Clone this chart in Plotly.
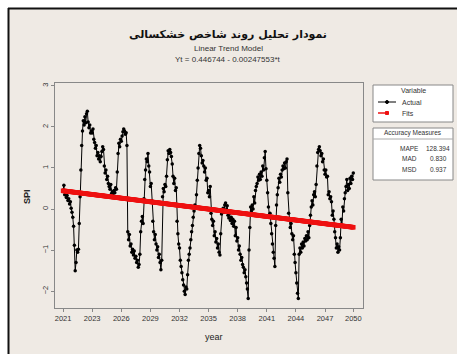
import plotly.graph_objects as go

# Monthly SPI series, 2021-2050 (one row per year)
spi_actual = [
    0.46, 0.58, 0.35, 0.42, 0.28, 0.33, 0.21, 0.25, 0.12, 0.18, 0.02, -0.08,
    -0.20, -0.42, -0.88, -1.50, -1.30, -1.00, -1.05, -0.98, -0.35, 0.30, 0.95, 1.55,
    1.90, 2.15, 2.05, 2.25, 2.10, 2.32, 2.38, 2.12, 1.98, 2.05, 1.85, 1.90,
    1.85, 1.95, 1.70, 1.62, 1.48, 1.55, 1.30, 1.38, 1.22, 1.30, 1.15, 1.28,
    1.40, 1.52, 1.45, 1.05, 0.88, 0.95, 0.72, 0.80, 0.62, 0.55, 0.48, 0.60,
    0.38, 0.42, 0.33, 0.45, 0.40, 0.52, 0.48, 0.90, 1.35, 1.60, 1.52, 1.70,
    1.65, 1.78, 1.88, 1.95, 1.90, 1.82, 1.86, 1.55, -0.55, -0.75, -0.62, -0.90,
    -0.85, -1.05, -0.98, -1.12, -1.02, -1.20, -1.15, -1.30, -1.25, -1.42, -1.35, -1.10,
    -0.55, -0.30, -0.18, -0.35, 0.25, 0.72, 0.95, 1.22, 1.15, 1.35, 1.05, 0.90,
    0.55, 0.62, 0.20, -0.30, -0.55, -0.75, -0.62, -0.85, -1.00, -0.92, -1.18, -1.10,
    -1.30, -1.48, -1.25, 0.30, 0.50, 0.42, 0.60, 0.55, 0.80, 1.20, 1.42, 1.35,
    1.45, 1.38, 1.28, 1.10, 0.80, 0.62, 0.75, 0.45, 0.52, -0.30, -0.60, -0.85,
    -0.95, -1.25, -1.40, -1.55, -1.72, -1.85, -2.00, -2.08, -1.90, -1.95, -1.60, -1.25,
    -1.10, -0.95, -0.75, -0.55, -0.40, -0.20, -0.05, 0.10, 0.05, 0.35, 0.70, 1.00,
    1.35, 1.55, 1.48, 1.30, 1.12, 1.18, 1.05, 0.90, 1.00, 0.70, 0.75, 0.40,
    0.45, 0.30, 0.55, -0.10, -0.25, -0.40, -0.30, -0.65, -0.55, -0.80, -0.72, -0.95,
    -0.85, -1.05, -1.12, -0.60, -0.12, -0.05, 0.02, -0.08, 0.10, 0.15, -0.02, 0.08,
    -0.15, -0.22, -0.10, -0.28, -0.20, -0.35, -0.25, -0.42, -0.30, -0.65, -0.45, -0.78,
    -0.70, -1.00, -0.90, -1.10, -1.25, -1.18, -1.35, -1.42, -1.55, -1.48, -1.65, -1.80,
    -1.95, -2.18, -1.00, -0.45, 0.05, -0.05, 0.10, 0.00, 0.30, 0.15, 0.45, 0.55,
    0.62, 0.78, 0.70, 0.85, 0.72, 0.90, 0.80, 1.05, 0.95, 1.25, 1.40, 0.98,
    0.70, 0.40, 0.05, -0.15, -0.10, -0.35, -0.60, -0.85, -1.05, -1.20, -1.40, -0.40,
    0.10, 0.35, 0.52, 0.75, 0.65, 0.85, 0.78, 0.95, 1.05, 0.98, 1.12, 1.00,
    1.15, 1.22, 0.40, -0.10, -0.25, -0.45, -0.35, -0.60, -0.75, -0.65, -1.10, -1.30,
    -1.55, -1.80, -2.05, -2.18, -1.10, -0.95, -1.05, -0.85, -0.95, -0.80, -0.90, -0.72,
    -0.78, -0.65, -0.75, -0.55, -0.70, -0.40, -0.15, 0.05, 0.20, 0.10, 0.35, 0.42,
    0.30, 0.60, 1.05, 1.38, 1.45, 1.52, 1.42, 1.30, 1.35, 1.15, 1.22, 0.95,
    0.85, 0.95, 0.78, 0.80, 0.35, 0.42, 0.25, 0.30, 0.18, -0.15, -0.05, -0.25,
    -0.55, -0.70, -0.95, -0.85, -1.05, -0.92, -1.00, -0.70, -0.25, -0.40, 0.05, -0.05,
    0.25, 0.40, 0.55, 0.72, 0.45, 0.60, 0.50, 0.75, 0.62, 0.80, 0.72, 0.88,
]

# Linear trend model coefficients: Yt = b0 + b1*t
trend_b0 = 0.446744
trend_b1 = -0.00247553

# Time-axis labels
tick_index = [1, 37, 73, 109, 145, 181, 217, 253, 289, 325, 360]
tick_years = ["2021", "2023", "2026", "2029", "2032", "2035",
              "2038", "2041", "2044", "2047", "2050"]

# Accuracy measures
accuracy_names = ["MAPE", "MAD", "MSD"]
accuracy_values = ["128.394", "0.830", "0.937"]

t = list(range(1, len(spi_actual) + 1))
fits = [trend_b0 + trend_b1 * k for k in t]

W, H = 457, 354
L, R, T, B = 55, 363, 83, 308


def px(x):
    return (x - L) / (R - L)


def py(y):
    return (B - y) / (B - T)


fig = go.Figure()
fig.add_trace(go.Scatter(
    x=t, y=spi_actual, mode="lines+markers", name="Actual",
    line=dict(color="black", width=1),
    marker=dict(color="black", size=3.5, symbol="circle"),
))
fig.add_trace(go.Scatter(
    x=t, y=fits, mode="lines+markers", name="Fits",
    line=dict(color="#ee1111", width=4),
    marker=dict(color="#ee1111", size=4.5, symbol="square"),
))

font = "Liberation Sans, Arial, sans-serif"
txt = "#333333"

shapes = [
    # sheet background with dark top/left edges
    dict(type="rect", xref="paper", yref="paper", x0=px(8), x1=px(W + 5),
         y0=py(H + 5), y1=py(8), fillcolor="#efeae4", line=dict(width=0), layer="below"),
    dict(type="line", xref="paper", yref="paper", x0=px(8), x1=px(W + 5),
         y0=py(8.5), y1=py(8.5), line=dict(color="#111111", width=2)),
    dict(type="line", xref="paper", yref="paper", x0=px(8.5), x1=px(8.5),
         y0=py(H + 5), y1=py(8), line=dict(color="#111111", width=2)),
    # legend boxes
    dict(type="rect", xref="paper", yref="paper", x0=px(373), x1=px(453),
         y0=py(122), y1=py(85), fillcolor="white", line=dict(color="#888888", width=1)),
    dict(type="rect", xref="paper", yref="paper", x0=px(373), x1=px(453),
         y0=py(180), y1=py(128), fillcolor="white", line=dict(color="#888888", width=1)),
    dict(type="line", xref="paper", yref="paper", x0=px(373), x1=px(453),
         y0=py(139), y1=py(139), line=dict(color="#aaaaaa", width=1)),
    # legend samples
    dict(type="line", xref="paper", yref="paper", x0=px(378), x1=px(396),
         y0=py(102), y1=py(102), line=dict(color="black", width=1)),
    dict(type="circle", xref="paper", yref="paper", x0=px(385.5), x1=px(388.5),
         y0=py(103.5), y1=py(100.5), fillcolor="black", line=dict(color="black", width=1)),
    dict(type="line", xref="paper", yref="paper", x0=px(378), x1=px(396),
         y0=py(113), y1=py(113), line=dict(color="#ee1111", width=1.5, dash="dash")),
    dict(type="rect", xref="paper", yref="paper", x0=px(385.5), x1=px(388.5),
         y0=py(114.5), y1=py(111.5), fillcolor="#ee1111", line=dict(color="#ee1111", width=1)),
]

ann = [
    dict(text="<b>نمودار تحلیل روند شاخص خشکسالی</b>", x=px(228), y=py(35),
         font=dict(size=11, color="#111111", family="DejaVu Sans, Noto Sans, sans-serif")),
    dict(text="Linear Trend Model", x=px(228), y=py(48), font=dict(size=8, color=txt, family=font)),
    dict(text="Yt = 0.446744 - 0.00247553*t", x=px(228), y=py(59),
         font=dict(size=8, color=txt, family=font)),
    dict(text="<b>SPI</b>", x=px(27), y=py(197), textangle=-90,
         font=dict(size=9, color="#222222", family=font)),
    dict(text="year", x=px(214), y=py(337), font=dict(size=9, color="#222222", family=font)),
    dict(text="Variable", x=px(413), y=py(90), font=dict(size=7, color=txt, family=font)),
    dict(text="Actual", x=px(400), y=py(102), xanchor="left", font=dict(size=7, color=txt, family=font)),
    dict(text="Fits", x=px(400), y=py(113), xanchor="left", font=dict(size=7, color=txt, family=font)),
    dict(text="Accuracy Measures", x=px(413), y=py(133), font=dict(size=6.5, color=txt, family=font)),
]
for i, (nm, val) in enumerate(zip(accuracy_names, accuracy_values)):
    yy = 148 + i * 10.5
    ann.append(dict(text=nm, x=px(409), y=py(yy), font=dict(size=6.5, color=txt, family=font)))
    ann.append(dict(text=val, x=px(438), y=py(yy), font=dict(size=6.5, color=txt, family=font)))
for a in ann:
    a.update(xref="paper", yref="paper", showarrow=False)
    a.setdefault("xanchor", "center")
    a.setdefault("yanchor", "middle")

fig.update_layout(
    width=W, height=H,
    margin=dict(l=L, r=W - R, t=T, b=H - B, pad=0),
    paper_bgcolor="white", plot_bgcolor="white",
    showlegend=False,
    shapes=shapes, annotations=ann,
    font=dict(family=font, size=8, color=txt),
)
fig.update_xaxes(
    range=[-9, 372], tickvals=tick_index, ticktext=tick_years,
    showgrid=False, zeroline=False, showline=True, mirror=True,
    linecolor="#888888", linewidth=1, ticks="outside", ticklen=3,
    tickcolor="#888888", tickfont=dict(size=7.5, color=txt),
)
fig.update_yaxes(
    range=[-2.41, 3.07], tickvals=[-2, -1, 0, 1, 2, 3],
    showgrid=False, zeroline=False, showline=True, mirror=True,
    linecolor="#888888", linewidth=1, ticks="outside", ticklen=3,
    tickcolor="#888888", tickangle=-90, tickfont=dict(size=7.5, color=txt),
)

fig.write_html("out.html")
